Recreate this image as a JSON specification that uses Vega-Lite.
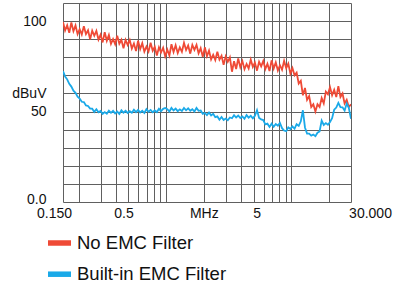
{
  "$schema": "https://vega.github.io/schema/vega-lite/v6.json",
  "width": 288,
  "height": 199,
  "autosize": {"type": "none"},
  "padding": {"left": 63, "top": 3, "right": 47, "bottom": 87},
  "background": "white",
  "config": {
    "font": "Liberation Sans",
    "view": {"stroke": null}
  },
  "data": {
    "values": [
      {"f":0.15,"n":99.5,"b":72.3},{"f":0.15587,"n":94.8,"b":69.4},{"f":0.16197,"n":97.7,"b":67.8},{"f":0.1683,"n":93.5,"b":65.3},
      {"f":0.17489,"n":99.2,"b":63.8},{"f":0.18173,"n":94.4,"b":61.5},{"f":0.18884,"n":97.6,"b":60.3},{"f":0.19623,"n":92.8,"b":58.2},
      {"f":0.2039,"n":95.5,"b":57.2},{"f":0.21188,"n":92.6,"b":55.4},{"f":0.22017,"n":97.2,"b":55.2},{"f":0.22878,"n":92.8,"b":53.4},
      {"f":0.23773,"n":94.9,"b":53.1},{"f":0.24704,"n":90,"b":51.6},{"f":0.2567,"n":94.7,"b":51.6},{"f":0.26674,"n":91.9,"b":49.8},
      {"f":0.27718,"n":94.6,"b":51.3},{"f":0.28802,"n":89.8,"b":49.6},{"f":0.29929,"n":92.5,"b":50.3},{"f":0.311,"n":88.2,"b":48.7},
      {"f":0.32316,"n":93.9,"b":49.7},{"f":0.33581,"n":89.1,"b":48.8},{"f":0.34895,"n":92.3,"b":50.5},{"f":0.3626,"n":87.4,"b":49.3},
      {"f":0.37678,"n":90.1,"b":50.4},{"f":0.39152,"n":87.2,"b":49},{"f":0.40684,"n":91.9,"b":50},{"f":0.42276,"n":87.5,"b":48.7},
      {"f":0.4393,"n":89.7,"b":50.7},{"f":0.45648,"n":84.9,"b":49.4},{"f":0.47434,"n":89.6,"b":50.4},{"f":0.4929,"n":86.8,"b":49.2},
      {"f":0.51218,"n":89.5,"b":50.2},{"f":0.53222,"n":84.8,"b":49.3},{"f":0.55304,"n":87.6,"b":51},{"f":0.57468,"n":83.4,"b":49.7},
      {"f":0.59716,"n":89.2,"b":50.9},{"f":0.62052,"n":84.5,"b":49.5},{"f":0.6448,"n":87.8,"b":50.5},{"f":0.67003,"n":83.1,"b":49.2},
      {"f":0.69624,"n":85.9,"b":51.3},{"f":0.72348,"n":83.2,"b":49.9},{"f":0.75178,"n":88,"b":50.9},{"f":0.78119,"n":83.6,"b":49.6},
      {"f":0.81176,"n":85.8,"b":50.6},{"f":0.84351,"n":80.9,"b":49.7},{"f":0.87651,"n":85.5,"b":51.5},{"f":0.9108,"n":82.7,"b":50.2},
      {"f":0.94644,"n":85.3,"b":51.5},{"f":0.98346,"n":80.5,"b":52},{"f":1.02194,"n":84.2,"b":51.3},{"f":1.06192,"n":81,"b":50},
      {"f":1.10346,"n":87.2,"b":52},{"f":1.14663,"n":82.9,"b":50.6},{"f":1.19149,"n":86.6,"b":51.6},{"f":1.23811,"n":82.3,"b":50.2},
      {"f":1.28654,"n":85.5,"b":51.2},{"f":1.33688,"n":83,"b":50.3},{"f":1.38918,"n":88,"b":52},{"f":1.44353,"n":84,"b":50.7},
      {"f":1.5,"n":86.5,"b":51.8},{"f":1.5587,"n":82,"b":50.4},{"f":1.6197,"n":86.8,"b":51.3},{"f":1.683,"n":84.1,"b":50},
      {"f":1.7489,"n":86.9,"b":52},{"f":1.8173,"n":82.2,"b":50.4},{"f":1.8884,"n":85,"b":50.6},{"f":1.9623,"n":80.2,"b":48.7},
      {"f":2.039,"n":85.5,"b":49.2},{"f":2.1188,"n":80.6,"b":48},{"f":2.2017,"n":83.7,"b":49.5},{"f":2.2878,"n":78.8,"b":47.9},
      {"f":2.3773,"n":81.4,"b":48.8},{"f":2.4704,"n":78.5,"b":46.9},{"f":2.567,"n":83.1,"b":47.3},{"f":2.6674,"n":78.7,"b":45.5},
      {"f":2.7718,"n":80.8,"b":47},{"f":2.8802,"n":75.9,"b":45.3},{"f":2.9929,"n":80.5,"b":46.1},{"f":3.11,"n":77.5,"b":45.2},
      {"f":3.2316,"n":80,"b":46.7},{"f":3.3581,"n":72,"b":46.3},{"f":3.4895,"n":77.8,"b":48},{"f":3.626,"n":73.5,"b":46.7},
      {"f":3.7678,"n":79.3,"b":47.8},{"f":3.9152,"n":74.5,"b":46.4},{"f":4.0684,"n":77.9,"b":47.3},{"f":4.2276,"n":73.4,"b":46},
      {"f":4.393,"n":76.3,"b":48},{"f":4.5648,"n":73.8,"b":46.6},{"f":4.7434,"n":78.7,"b":47.6},{"f":4.929,"n":74.7,"b":46.2},
      {"f":5.1218,"n":77.1,"b":47.7},{"f":5.3222,"n":72.6,"b":50.8},{"f":5.5304,"n":77.5,"b":46.5},{"f":5.7468,"n":75,"b":45.7},
      {"f":5.9716,"n":78,"b":45.3},{"f":6.2052,"n":73.5,"b":42.9},{"f":6.448,"n":76.4,"b":43.3},{"f":6.7003,"n":72.4,"b":41.5},
      {"f":6.9624,"n":78.3,"b":43.3},{"f":7.2348,"n":73.8,"b":41.6},{"f":7.5178,"n":77.2,"b":43.1},{"f":7.8119,"n":72.7,"b":42.2},
      {"f":8.1176,"n":75.6,"b":43.7},{"f":8.4351,"n":73.1,"b":40.8},{"f":8.7651,"n":78,"b":39.5},{"f":9.108,"n":74,"b":39.2},
      {"f":9.4644,"n":76.5,"b":41.3},{"f":9.8346,"n":71,"b":40.4},{"f":10.219,"n":74,"b":41.8},{"f":10.619,"n":70,"b":40.5},
      {"f":11.035,"n":71.5,"b":43},{"f":11.466,"n":65.5,"b":42.1},{"f":11.915,"n":67,"b":44.6},{"f":12.381,"n":59,"b":50.7},
      {"f":12.865,"n":63,"b":41.2},{"f":13.369,"n":56.5,"b":37.8},{"f":13.892,"n":58.5,"b":37.8},{"f":14.435,"n":52.5,"b":36.7},
      {"f":15,"n":54,"b":37.3},{"f":15.587,"n":50,"b":36.4},{"f":16.197,"n":54,"b":38.3},{"f":16.83,"n":52.5,"b":39},
      {"f":17.489,"n":57.5,"b":45},{"f":18.173,"n":54.5,"b":42.6},{"f":18.884,"n":61,"b":43.6},{"f":19.623,"n":59.5,"b":42.7},
      {"f":20.39,"n":63.5,"b":44.2},{"f":21.188,"n":59,"b":46.3},{"f":22.017,"n":62,"b":51},{"f":22.878,"n":58,"b":52.2},
      {"f":23.773,"n":64,"b":54.8},{"f":24.704,"n":58,"b":52.4},{"f":25.67,"n":60,"b":52.3},{"f":26.674,"n":54.5,"b":50.5},
      {"f":27.718,"n":56.5,"b":54.5},{"f":28.802,"n":52.5,"b":52.1},{"f":30,"n":54,"b":46}
    ]
  },
  "transform": [{"fold": ["n", "b"], "as": ["s", "v"]}],
  "mark": {"type": "line", "strokeWidth": 1.8, "clip": true},
  "encoding": {
    "x": {
      "field": "f",
      "type": "quantitative",
      "scale": {"type": "log", "domain": [0.15, 30], "nice": false},
      "axis": {
        "title": null,
        "values": [0.15, 0.2, 0.3, 0.4, 0.5, 0.6, 0.7, 0.8, 0.9, 1, 2, 3, 4, 5, 6, 7, 8, 9, 10, 20, 30],
        "grid": true,
        "gridColor": "#606060",
        "gridWidth": 1,
        "domain": false,
        "ticks": false,
        "labelOverlap": false,
        "labelFlush": false,
        "labelBound": false,
        "labelFontSize": 14,
        "labelColor": "#111111",
        "labelPadding": 4,
        "labelExpr": "datum.value == 0.15 ? '0.150' : datum.value == 0.5 ? '0.5' : datum.value == 2 ? 'MHz' : datum.value == 5 ? '5' : datum.value == 30 ? '30.000' : ''",
        "encoding": {"labels": {"dx": {"value": {"expr": "datum.value == 30 ? 19 : datum.value == 0.15 ? -9 : datum.value == 0.5 ? -5 : datum.value == 5 ? 3 : 0"}}}}
      }
    },
    "y": {
      "field": "v",
      "type": "quantitative",
      "scale": {"domain": [0, 110], "nice": false},
      "axis": {
        "title": null,
        "values": [0, 10, 20, 30, 40, 50, 60, 70, 80, 90, 100, 110],
        "grid": true,
        "gridColor": "#606060",
        "gridWidth": 1,
        "domain": false,
        "ticks": false,
        "labelOverlap": false,
        "labelFlush": false,
        "labelFontSize": 14,
        "labelColor": "#111111",
        "labelPadding": 17,
        "labelExpr": "datum.value == 0 ? '0.0' : datum.value == 50 ? '50' : datum.value == 60 ? 'dBuV' : datum.value == 100 ? '100' : ''",
        "encoding": {"labels": {"dy": {"value": {"expr": "datum.value == 0 ? -3 : 0"}}}}
      }
    },
    "color": {
      "field": "s",
      "type": "nominal",
      "scale": {"domain": ["n", "b"], "range": ["#EF4A36", "#1AA9E8"]},
      "legend": {
        "title": null,
        "orient": "none",
        "legendX": -18,
        "legendY": 225.5,
        "direction": "vertical",
        "symbolType": "stroke",
        "symbolSize": 529,
        "symbolStrokeWidth": 5.5,
        "labelFontSize": 18.5,
        "labelColor": "#111111",
        "labelOffset": 3,
        "rowPadding": 5.2,
        "padding": 0,
        "labelLimit": 0,
        "labelExpr": "datum.label == 'n' ? 'No EMC Filter' : 'Built-in EMC Filter'"
      }
    }
  }
}
